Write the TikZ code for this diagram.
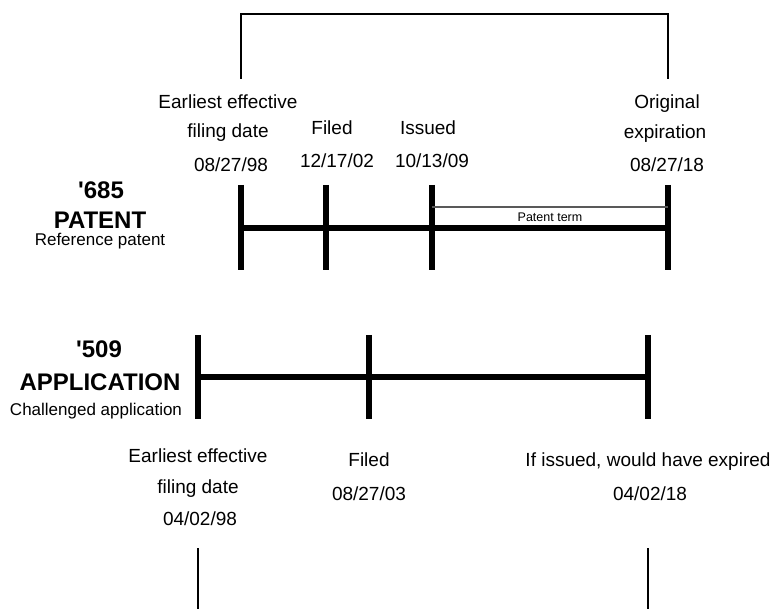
\documentclass[tikz,border=0pt]{standalone}
\usepackage{fontspec}
\setmainfont{Liberation Sans}
\tikzset{
  lbl/.style={font=\fontsize{19}{22}\selectfont, anchor=base, inner sep=0pt},
  ttl/.style={font=\bfseries\fontsize{24}{28}\selectfont, anchor=base, inner sep=0pt},
  sublbl/.style={font=\fontsize{17}{20}\selectfont, anchor=base, inner sep=0pt},
  smalllbl/.style={font=\fontsize{12.5}{14}\selectfont, anchor=base, inner sep=0pt},
  tickline/.style={line width=6pt},
  axisline/.style={line width=6pt},
  thinline/.style={line width=2pt},
  termline/.style={line width=1.5pt, draw=black!65},
}
\begin{document}
\begin{tikzpicture}[x=1pt,y=-1pt]
\useasboundingbox (0,0) rectangle (771,609);

% bracket on top
\coordinate (bl) at (241,79);
\coordinate (blt) at (241,14);
\coordinate (brt) at (668,14);
\coordinate (br) at (668,79);
\draw[thinline] (bl) -- (blt) -- (brt) -- (br);

% '685 patent timeline
\foreach \n/\x in {1/241,2/326,3/432,4/668}{
  \coordinate (pt\n) at (\x,185);
  \coordinate (pb\n) at (\x,270);
  \coordinate (pm\n) at (\x,228);
}
\draw[axisline] (pm1) -- (pm4);
\foreach \n in {1,2,3,4}{ \draw[tickline] (pt\n) -- (pb\n); }
\coordinate (ts) at (432,207);
\coordinate (te) at (668,207);
\draw[termline] (ts) -- (te);
\node[smalllbl] (term) at (550,221.5) {Patent term};

% top labels
\node[lbl] (p1a) at (228,109) {Earliest effective};
\node[lbl] (p1b) at (228,138) {filing date};
\node[lbl] (p1c) at (231,172) {08/27/98};
\node[lbl] (p2a) at (332,135) {Filed};
\node[lbl] (p2b) at (337,168) {12/17/02};
\node[lbl] (p3a) at (428,135) {Issued};
\node[lbl] (p3b) at (432,168) {10/13/09};
\node[lbl] (p4a) at (667,109) {Original};
\node[lbl] (p4b) at (665,139) {expiration};
\node[lbl] (p4c) at (667,172) {08/27/18};

% patent title
\node[ttl] (pn) at (101,199) {\textquotesingle 685};
\node[ttl] (pw) at (100,229) {PATENT};
\node[sublbl] (ps) at (100,246) {Reference patent};

% '509 application timeline
\foreach \n/\x in {1/198,2/369,3/648}{
  \coordinate (at\n) at (\x,335);
  \coordinate (ab\n) at (\x,419);
  \coordinate (am\n) at (\x,377);
}
\draw[axisline] (am1) -- (am3);
\foreach \n in {1,2,3}{ \draw[tickline] (at\n) -- (ab\n); }

% application title
\node[ttl] (an) at (99,358) {\textquotesingle 509};
\node[ttl] (aw) at (100,391) {APPLICATION};
\node[sublbl] (as) at (96,415) {Challenged application};

% bottom labels
\node[lbl] (a1a) at (198,462) {Earliest effective};
\node[lbl] (a1b) at (198,493) {filing date};
\node[lbl] (a1c) at (200,525) {04/02/98};
\node[lbl] (a2a) at (369,466) {Filed};
\node[lbl] (a2b) at (369,500) {08/27/03};
\node[lbl] (a3a) at (648,466) {If issued, would have expired};
\node[lbl] (a3b) at (650,500) {04/02/18};

% bottom bracket stubs
\coordinate (bb1t) at (198,548);
\coordinate (bb1b) at (198,609);
\coordinate (bb2t) at (648,548);
\coordinate (bb2b) at (648,609);
\draw[thinline] (bb1t) -- (bb1b);
\draw[thinline] (bb2t) -- (bb2b);
\end{tikzpicture}
\end{document}
